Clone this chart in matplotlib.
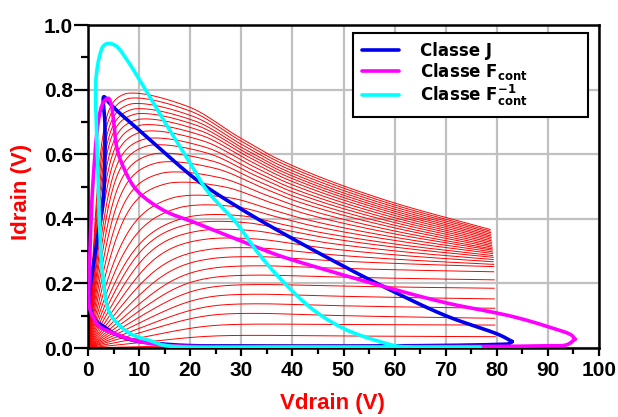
import numpy as np
import matplotlib
matplotlib.use("Agg")
import matplotlib.pyplot as plt
from matplotlib.ticker import MultipleLocator

# ---------------- data ----------------
# Red I-V family: plateau level, level at the right end, knee voltage,
# voltage of the maximum, knee sharpness and right end voltage
red_peak = [0.800, 0.785, 0.768, 0.752, 0.737, 0.721, 0.704, 0.685, 0.664, 0.644,
            0.618, 0.592, 0.561, 0.530, 0.500, 0.470, 0.440, 0.410, 0.380, 0.350,
            0.320, 0.290, 0.260, 0.230, 0.200, 0.170, 0.140, 0.110, 0.075, 0.040,
            0.010, 0.000]
red_end = [0.367, 0.362, 0.357, 0.352, 0.347, 0.342, 0.337, 0.332, 0.327, 0.322,
           0.317, 0.312, 0.307, 0.303, 0.298, 0.293, 0.287, 0.281, 0.274, 0.267,
           0.259, 0.252, 0.236, 0.211, 0.185, 0.152, 0.123, 0.092, 0.071, 0.035,
           0.008, 0.000]
red_knee = [2.7, 2.9, 3.1, 3.3, 3.5, 3.8, 4.1, 4.4, 4.8, 5.2,
            5.7, 6.3, 7.0, 7.8, 8.7, 9.7, 10.8, 12.0, 13.3, 14.7,
            16.0, 17.5, 19.0, 20.0, 21.0, 22.0, 23.0, 23.5, 24.0, 24.0,
            24.0, 24.0]
red_vpk = [7.5, 8.0, 8.5, 9.0, 9.5, 10.0, 10.5, 11.0, 11.5, 12.0,
           13.0, 14.0, 15.0, 16.0, 17.0, 18.5, 20.0, 21.5, 23.0, 24.0,
           25.0, 25.0, 25.0, 25.0, 25.0, 25.0, 25.0, 25.0, 25.0, 25.0,
           25.0, 25.0]
red_sharp = [3, 3, 3, 3, 3, 3, 3, 3, 3, 3,
             3, 3, 3, 3, 2.5, 2.5, 2.5, 3, 3.5, 4,
             4, 4.5, 5, 5.5, 6, 6.5, 7, 7.5, 8, 8,
             8, 8]
red_vend = [78.7, 78.7, 78.8, 78.8, 78.8, 78.9, 78.9, 78.9, 79.0, 79.0,
            79.0, 79.1, 79.1, 79.1, 79.2, 79.2, 79.2, 79.3, 79.3, 79.3,
            79.4, 79.4, 79.4, 79.5, 79.5, 79.5, 79.6, 79.6, 79.6, 79.7,
            79.7, 79.7]
# shared normalised droop profile of the red curves
droop_t = [0.0, 0.17, 0.31, 0.42, 0.70, 1.0]
droop_h = [0.0, 0.12, 0.34, 0.50, 0.78, 1.0]

# Load lines
j_v = [83.0, 80.6, 70.0, 59.1, 48.0, 37.6, 30.0, 21.3, 11.5, 6.0, 4.2, 3.1,
       3.3, 3.3, 3.0, 2.0, 1.0, 0.4, 0.4, 1.2, 3.5, 5.0, 7.4, 10.0,
       12.7, 19.0, 30.0, 50.0, 70.0, 80.0, 82.3, 83.0]
j_i = [0.020, 0.040, 0.100, 0.180, 0.270, 0.360, 0.430, 0.520, 0.654, 0.730, 0.758, 0.778,
       0.700, 0.580, 0.460, 0.355, 0.252, 0.180, 0.130, 0.090, 0.062, 0.046, 0.030, 0.020,
       0.015, 0.008, 0.006, 0.006, 0.008, 0.011, 0.013, 0.020]

f_v = [95.3, 94.6, 91.0, 83.2, 70.0, 59.1, 48.0, 37.6, 31.1, 21.3, 14.7, 9.5, 6.9, 5.6,
       5.1, 4.6, 4.0, 3.2, 2.3, 1.0, 0.4, 0.15, 0.3, 1.0, 2.3, 4.9, 8.8, 14.7,
       24.5, 50.0, 80.0, 89.7, 93.7, 95.3]
f_i = [0.027, 0.040, 0.061, 0.097, 0.140, 0.185, 0.235, 0.285, 0.324, 0.386, 0.427, 0.489, 0.561, 0.623,
       0.690, 0.750, 0.773, 0.765, 0.727, 0.520, 0.310, 0.180, 0.125, 0.095, 0.066, 0.046, 0.025, 0.009,
       0.004, 0.004, 0.005, 0.007, 0.010, 0.027]

fi_v = [76.8, 40.0, 19.2, 14.7, 12.7, 8.2, 4.3, 3.0, 2.3, 2.0, 1.5, 1.6, 2.2, 3.0, 4.0, 5.5, 7.5,
        10.1, 15.0, 20.0, 23.2, 29.1, 33.0, 37.6, 44.1, 50.6, 57.1, 60.4, 63.0]
fi_i = [0.003, 0.003, 0.003, 0.009, 0.020, 0.045, 0.107, 0.210, 0.365, 0.520, 0.768, 0.840, 0.900, 0.935,
        0.943, 0.935, 0.895, 0.830, 0.700, 0.572, 0.489, 0.386, 0.300, 0.215, 0.118, 0.056, 0.020, 0.006, 0.003]

legend_labels = ["Classe J",
                 r"Classe F$_{\mathbf{cont}}$",
                 r"Classe F$^{\mathbf{-1}}_{\mathbf{cont}}$"]
x_ticks = list(range(0, 101, 10))
y_ticks = [0.0, 0.2, 0.4, 0.6, 0.8, 1.0]


# ---------------- helpers ----------------
def catmull_rom(xs, ys, per=24, alpha=0.5):
    """Centripetal Catmull-Rom curve through the given points (screen scaled)."""
    sx, sy = 5.11, 323.0
    P = np.column_stack([np.asarray(xs) * sx, np.asarray(ys) * sy])
    P = np.vstack([2 * P[0] - P[1], P, 2 * P[-1] - P[-2]])
    out = []
    for i in range(1, len(P) - 2):
        p0, p1, p2, p3 = P[i - 1], P[i], P[i + 1], P[i + 2]
        t0 = 0.0
        t1 = t0 + max(np.linalg.norm(p1 - p0), 1e-6) ** alpha
        t2 = t1 + max(np.linalg.norm(p2 - p1), 1e-6) ** alpha
        t3 = t2 + max(np.linalg.norm(p3 - p2), 1e-6) ** alpha
        t = np.linspace(t1, t2, per)[:, None]
        a1 = (t1 - t) / (t1 - t0) * p0 + (t - t0) / (t1 - t0) * p1
        a2 = (t2 - t) / (t2 - t1) * p1 + (t - t1) / (t2 - t1) * p2
        a3 = (t3 - t) / (t3 - t2) * p2 + (t - t2) / (t3 - t2) * p3
        b1 = (t2 - t) / (t2 - t0) * a1 + (t - t0) / (t2 - t0) * a2
        b2 = (t3 - t) / (t3 - t1) * a2 + (t - t1) / (t3 - t1) * a3
        c = (t2 - t) / (t2 - t1) * b1 + (t - t1) / (t2 - t1) * b2
        out.append(c if i == 1 else c[1:])
    C = np.vstack(out)
    return C[:, 0] / sx, C[:, 1] / sy


def pchip(xk, yk, x):
    xk = np.asarray(xk, float); yk = np.asarray(yk, float)
    h = np.diff(xk); d = np.diff(yk) / h
    m = np.zeros_like(yk)
    for k in range(1, len(xk) - 1):
        if d[k - 1] * d[k] > 0:
            w1 = 2 * h[k] + h[k - 1]; w2 = h[k] + 2 * h[k - 1]
            m[k] = (w1 + w2) / (w1 / d[k - 1] + w2 / d[k])
    m[0] = d[0] * 0.5; m[-1] = d[-1]
    idx = np.clip(np.searchsorted(xk, x) - 1, 0, len(xk) - 2)
    hh = h[idx]; s = (x - xk[idx]) / hh
    h00 = 2 * s ** 3 - 3 * s ** 2 + 1; h10 = s ** 3 - 2 * s ** 2 + s
    h01 = -2 * s ** 3 + 3 * s ** 2; h11 = s ** 3 - s ** 2
    return h00 * yk[idx] + h10 * hh * m[idx] + h01 * yk[idx + 1] + h11 * hh * m[idx + 1]


# ---------------- figure ----------------
plt.rcParams['mathtext.fontset'] = 'dejavusans'
fig = plt.figure(figsize=(6.18, 4.17), dpi=100)
ax = fig.add_axes([88 / 618, 1 - 348 / 417, 511 / 618, 323 / 417])
ax.set_axisbelow(True)

# red family
for P, E, vk, vp, n, ve in zip(red_peak, red_end, red_knee, red_vpk, red_sharp, red_vend):
    v = np.linspace(0, ve, 500)
    x = v / vk
    rise = x / (1 + x ** n) ** (1.0 / n)
    t = np.clip((v - vp) / (ve - vp), 0, 1)
    h = pchip(droop_t, droop_h, t)
    ratio = E / P if P > 0 else 1.0
    cur = P * rise * (1 - (1 - ratio) * h)
    ax.plot(v, cur, color='red', lw=0.7, zorder=2)

lw_ld = 2.6
for vv, ii, col, z, lab in [(j_v, j_i, '#0000ee', 3, legend_labels[0]),
                            (f_v, f_i, '#ff00ff', 4, legend_labels[1]),
                            (fi_v, fi_i, '#00ffff', 5, legend_labels[2])]:
    sx, sy = catmull_rom(vv, ii)
    ax.plot(sx, sy, color=col, lw=lw_ld, zorder=z, label=lab,
            solid_joinstyle='round', solid_capstyle='round')

ax.set_xlim(0, 100)
ax.set_ylim(0, 1.0)
ax.set_xticks(x_ticks)
ax.set_yticks(y_ticks)
ax.xaxis.set_minor_locator(MultipleLocator(5))
ax.yaxis.set_minor_locator(MultipleLocator(0.1))
ax.set_yticklabels([f"{v:.1f}" for v in y_ticks])
ax.grid(True, which='major', color='#c0c0c0', lw=1.6)

for s in ax.spines.values():
    s.set_linewidth(1.8)
    s.set_color('black')

ax.tick_params(axis='both', which='both', direction='out', width=1.6, colors='black')
ax.tick_params(axis='x', which='major', length=6, pad=3)
ax.tick_params(axis='x', which='minor', length=4)
ax.tick_params(axis='y', which='major', length=10, pad=1)
ax.tick_params(axis='y', which='minor', length=5)
ax.tick_params(top=False, right=False, which='both')
for lab in ax.get_xticklabels() + ax.get_yticklabels():
    lab.set_fontfamily('Liberation Sans')
    lab.set_fontweight('bold')
    lab.set_fontsize(15)

ax.set_xlabel("Vdrain (V)", color='red', fontsize=16, fontweight='bold', family='Liberation Sans')
ax.set_ylabel("Idrain (V)", color='red', fontsize=16, fontweight='bold', family='Liberation Sans')
ax.xaxis.set_label_coords((332.5 - 88) / 511, (348 - 404) / 323)
ax.xaxis.label.set_va('center')
ax.yaxis.set_label_coords((22 - 88) / 511, (348 - 192) / 323)
ax.yaxis.label.set_va('center')

x0 = (353 - 88) / 511
w = (588 - 353) / 511
y0 = (348 - 111) / 323
hgt = (111 - 33) / 323
leg = ax.legend(loc='upper left', bbox_to_anchor=(x0, y0, w, hgt), mode='expand',
                prop={'family': 'DejaVu Sans', 'weight': 'bold', 'size': 12},
                fancybox=False, framealpha=1, edgecolor='black',
                handlelength=2.2, handletextpad=1.3, labelspacing=0.05,
                borderpad=0.55, borderaxespad=0)
leg.get_frame().set_linewidth(1.5)

fig.savefig("out.png", dpi=100)
